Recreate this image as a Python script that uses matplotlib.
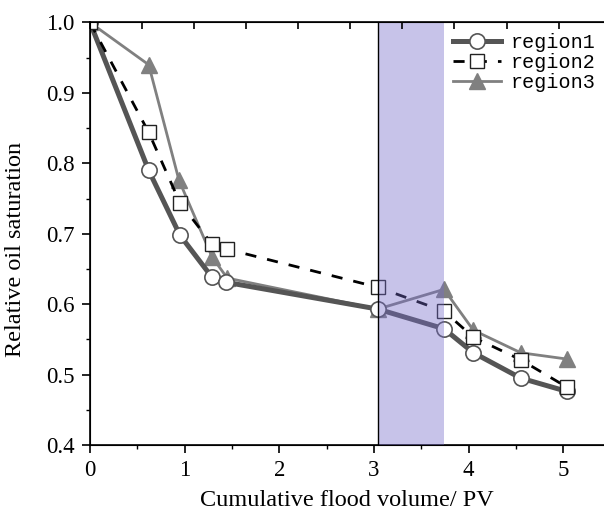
import numpy as np
import matplotlib
matplotlib.use("Agg")
import matplotlib.pyplot as plt

# data
x_r1 = [0, 0.62, 0.95, 1.29, 1.44, 3.04, 3.74, 4.05, 4.55, 5.04]
y_r1 = [1.0, 0.790, 0.698, 0.638, 0.631, 0.593, 0.565, 0.531, 0.495, 0.476]

x_r2 = [0, 0.62, 0.95, 1.29, 1.45, 3.04, 3.74, 4.05, 4.55, 5.04]
y_r2 = [1.0, 0.844, 0.744, 0.685, 0.678, 0.624, 0.590, 0.553, 0.521, 0.482]

x_r3 = [0, 0.62, 0.94, 1.29, 1.45, 3.04, 3.74, 4.05, 4.55, 5.04]
y_r3 = [1.0, 0.940, 0.776, 0.667, 0.637, 0.593, 0.621, 0.563, 0.531, 0.522]

shade_start = 3.04
shade_end = 3.74

x_ticks = [0, 1, 2, 3, 4, 5]
y_ticks = [0.4, 0.5, 0.6, 0.7, 0.8, 0.9, 1.0]

plt.rcParams["font.family"] = ["Liberation Serif", "DejaVu Serif"]

fig = plt.figure(figsize=(6.04, 5.17), dpi=100)
ax = fig.add_axes([0.149, 0.1393, 0.851, 0.8172])

ax.plot(x_r1, y_r1, color="#555555", lw=3.6, marker="o", ms=11,
        mfc="white", mec="#555555", mew=1.2, label="region1", zorder=3)
ax.plot(x_r2, y_r2, color="black", lw=2.0, ls=(0, (4, 4)), marker="s", ms=10,
        mfc="white", mec="#222222", mew=1.0, label="region2", zorder=4)
ax.plot(x_r3, y_r3, color="#808080", lw=2.0, marker="^", ms=11,
        mfc="#808080", mec="#808080", label="region3", zorder=2)

ax.axvspan(shade_start, shade_end, color=(117/255, 107/255, 202/255),
           alpha=0.4, lw=0, zorder=5)
ax.axvline(shade_start, color="black", lw=1.0, zorder=6)

ax.set_xlim(0, 5.43)
ax.set_ylim(0.4, 1.0)
ax.set_xticks(x_ticks)
ax.set_xticks(np.arange(0.5, 5.5, 1.0), minor=True)
ax.set_yticks(y_ticks)
ax.set_yticklabels([f"{v:.1f}" for v in y_ticks])
ax.set_yticks(np.arange(0.45, 1.0, 0.1), minor=True)
ax.tick_params(which="major", direction="out", length=6, width=1.2,
               labelsize=16.5, pad=5, top=False, right=False)
ax.tick_params(which="minor", direction="out", length=3, width=1.0,
               top=False, right=False)
ax.spines["right"].set_visible(False)
for s in ["left", "bottom", "top"]:
    ax.spines[s].set_linewidth(1.2)

# top axis with its own inward ticks
top = ax.twiny()
top.set_xlim(ax.get_xlim())
top.set_xticks(np.arange(0, 5.5, 0.55))
top.tick_params(direction="in", length=5, width=1.2, labeltop=False)
top.spines["right"].set_visible(False)

ax.set_xlabel("Cumulative flood volume/ PV", fontsize=17.5, labelpad=6)
ax.set_ylabel("Relative oil saturation", fontsize=17.5)
ax.yaxis.set_label_coords(-0.125, 0.464)

leg = ax.legend(loc="upper right", bbox_to_anchor=(1.0, 0.995), frameon=False,
                prop={"family": "Liberation Mono", "size": 14.5},
                handlelength=2.4, handletextpad=0.5, labelspacing=0.05,
                borderaxespad=0)
leg.set_zorder(10)

fig.savefig("out.png", dpi=100)
